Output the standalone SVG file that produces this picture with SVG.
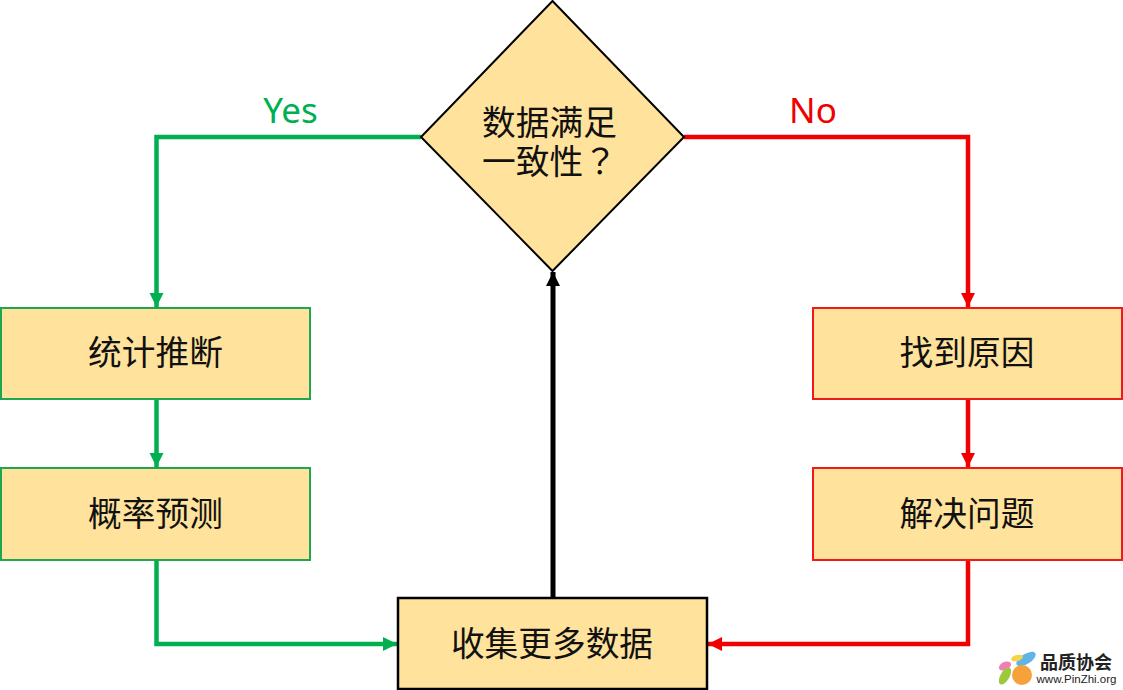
<svg xmlns="http://www.w3.org/2000/svg" width="1123" height="690" viewBox="0 0 1123 690">
<style>
.box{fill:#ffe29b}
.g{stroke:#1ea650;stroke-width:2}
.r{stroke:#f01a1a;stroke-width:2}
.k{stroke:#000;stroke-width:2}
.k2{stroke:#000;stroke-width:2.500}
.t{font-family:"Noto Sans CJK SC","Noto Sans",sans-serif;font-size:33.700px;fill:#111;text-anchor:middle}
.lab{font-family:"Noto Sans","Open Sans",sans-serif;font-size:35px;text-anchor:middle}
.c{fill:none;stroke-width:4.500}
.cg{stroke:#00b050}
.cr{stroke:#f00000}
.ck{stroke:#000;stroke-width:5}
</style>
<defs>
<marker id="ag" markerUnits="userSpaceOnUse" markerWidth="15" markerHeight="15" refX="14" refY="7.500" orient="auto"><path d="M0 0.500L14 7.500L0 14.500Z" fill="#00b050"/></marker>
<marker id="ar" markerUnits="userSpaceOnUse" markerWidth="15" markerHeight="15" refX="14" refY="7.500" orient="auto"><path d="M0 0.500L14 7.500L0 14.500Z" fill="#f00000"/></marker>
<marker id="ak" markerUnits="userSpaceOnUse" markerWidth="15" markerHeight="15" refX="14" refY="7.500" orient="auto"><path d="M0 0.500L14 7.500L0 14.500Z" fill="#000"/></marker>
</defs>
<rect width="1123" height="690" fill="#fff"/>
<g id="connectors">
<path class="c cg" d="M421 137H156.500V307" marker-end="url(#ag)"/>
<path class="c cg" d="M156.500 399V467" marker-end="url(#ag)"/>
<path class="c cg" d="M156.500 560V644H397" marker-end="url(#ag)"/>
<path class="c cr" d="M684 137H968V307" marker-end="url(#ar)"/>
<path class="c cr" d="M968 399V467" marker-end="url(#ar)"/>
<path class="c cr" d="M968 560V644H708" marker-end="url(#ar)"/>
<path class="c ck" d="M553 598V272" marker-end="url(#ak)"/>
</g>
<g id="decision"><path class="box k" d="M552.500 1L684 137L552.500 271L421 137Z"/><text class="t" x="549.500" y="135">数据满足</text><text class="t" x="549.500" y="174">一致性<tspan font-family="'Noto Sans CJK TC',sans-serif">？</tspan></text></g>
<g id="infer"><rect class="box g" x="1" y="308" width="309" height="91"/><text class="t" x="155.500" y="365">统计推断</text></g>
<g id="predict"><rect class="box g" x="1" y="468" width="309" height="92"/><text class="t" x="155.500" y="526">概率预测</text></g>
<g id="cause"><rect class="box r" x="813" y="308" width="309" height="91"/><text class="t" x="967" y="365">找到原因</text></g>
<g id="solve"><rect class="box r" x="813" y="468" width="309" height="92"/><text class="t" x="967" y="526">解决问题</text></g>
<g id="collect"><rect class="box k2" x="398" y="598" width="309" height="91"/><text class="t" x="552" y="656">收集更多数据</text></g>
<text class="lab" x="290.500" y="123" fill="#00b050">Yes</text>
<text class="lab" x="813" y="123" fill="#f00000">No</text>
<g id="logo">
<ellipse cx="1026" cy="659" rx="11" ry="5" transform="rotate(-32 1026 659)" fill="#5fb6e6"/>
<ellipse cx="1017" cy="658" rx="6" ry="3" transform="rotate(-15 1017 658)" fill="#f5d44a"/>
<ellipse cx="1005" cy="666" rx="6.500" ry="4" transform="rotate(-25 1005 666)" fill="#ee80b4"/>
<ellipse cx="1005" cy="676" rx="9.500" ry="4.500" transform="rotate(-60 1005 676)" fill="#9ec83c"/>
<circle cx="1022" cy="675" r="10" fill="#f6a13a"/>
<text x="1076" y="669" font-family="'Noto Sans CJK SC',sans-serif" font-size="18" font-weight="700" fill="#222" text-anchor="middle">品质协会</text>
<text x="1076.500" y="683" font-family="'Liberation Sans',sans-serif" font-size="11.500" fill="#222" text-anchor="middle">www.PinZhi.org</text>
</g>
</svg>
